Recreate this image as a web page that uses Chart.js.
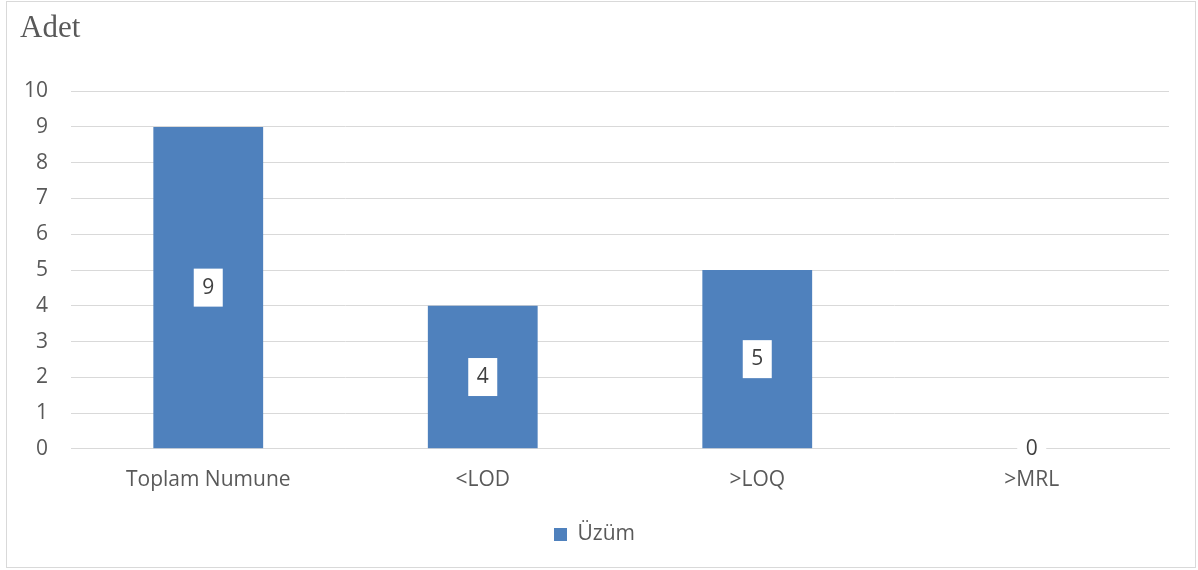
<!DOCTYPE html>
<html>
<head>
<meta charset="utf-8">
<script src="https://cdn.jsdelivr.net/npm/chart.js@4/dist/chart.umd.min.js"></script>
<style>
  html, body { margin: 0; padding: 0; background: #fff; }
  #wrap { position: relative; width: 1198px; height: 570px; }
</style>
</head>
<body>
<div id="wrap"><canvas id="myChart" width="1198" height="570"></canvas></div>
<script>
// Chart data
const categories = ['Toplam Numune', '<LOD', '>LOQ', '>MRL'];
const uzumValues = [9, 4, 5, 0];
const seriesName = 'Üzüm';
const titleText = 'Adet';

const barColor = '#4f81bd';
const gridColor = '#d9d9d9';
const textColor = '#595959';
const sansFont = '"Open Sans", "Liberation Sans", sans-serif';

// Outer border of the chart box
const borderPlugin = {
    id: 'outerBorder',
    beforeDraw(chart) {
        const c = chart.ctx;
        c.save();
        c.fillStyle = '#fff';
        c.fillRect(0, 0, chart.width, chart.height);
        c.strokeStyle = gridColor;
        c.lineWidth = 1;
        c.strokeRect(6.5, 1.5, 1189, 566);
        c.restore();
    }
};

// White boxed value labels in the middle of each bar
const valueLabels = {
    id: 'valueLabels',
    afterDatasetsDraw(chart) {
        const c = chart.ctx;
        const meta = chart.getDatasetMeta(0);
        c.save();
        c.font = '21px ' + sansFont;
        c.textAlign = 'center';
        c.textBaseline = 'middle';
        meta.data.forEach((bar, i) => {
            const cy = (bar.y + bar.base) / 2;
            const cx = bar.x;
            const h = uzumValues[i] === 0 ? 24 : 38;
            c.fillStyle = '#fff';
            c.fillRect(cx - 14.5, cy - h / 2, 29, h);
            c.fillStyle = '#404040';
            c.fillText(String(uzumValues[i]), cx, cy);
        });
        c.restore();
    }
};

const ctx = document.getElementById('myChart').getContext('2d');

const myChart = new Chart(ctx, {
    type: 'bar',
    data: {
        labels: categories,
        datasets: [{
            label: seriesName,
            data: uzumValues,
            backgroundColor: barColor,
            borderWidth: 0,
            barPercentage: 0.4,
            categoryPercentage: 1
        }]
    },
    options: {
        responsive: false,
        animation: false,
        layout: {
            padding: { left: 20, right: 29, top: 0, bottom: 15 }
        },
        scales: {
            x: {
                grid: { display: false, drawTicks: false },
                border: { display: true, color: gridColor, width: 1 },
                ticks: {
                    color: textColor,
                    padding: 19,
                    maxRotation: 0,
                    font: { family: sansFont, size: 21 }
                }
            },
            y: {
                min: 0,
                max: 10,
                afterFit(scale) { scale.width = 51; },
                grid: { color: gridColor, lineWidth: 1, drawTicks: false },
                border: { display: false },
                ticks: {
                    stepSize: 1,
                    color: textColor,
                    padding: 23,
                    font: { family: sansFont, size: 21 }
                }
            }
        },
        plugins: {
            title: {
                display: true,
                text: titleText,
                align: 'start',
                color: textColor,
                padding: { top: 10, bottom: 44 },
                font: { family: '"Liberation Serif", "DejaVu Serif", serif', size: 31, weight: 'normal' }
            },
            legend: {
                display: true,
                position: 'bottom',
                labels: {
                    color: textColor,
                    boxWidth: 13,
                    boxHeight: 13,
                    padding: 12,
                    font: { family: sansFont, size: 21 }
                }
            },
            tooltip: { enabled: false }
        }
    },
    plugins: [borderPlugin, valueLabels]
});
</script>
</body>
</html>
